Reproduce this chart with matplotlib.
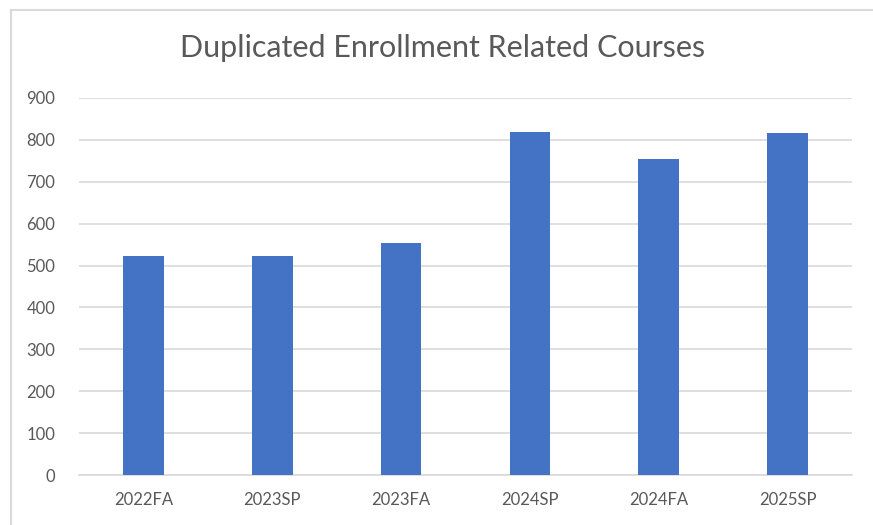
import matplotlib
matplotlib.use("Agg")
import matplotlib.pyplot as plt

categories = ["2022FA", "2023SP", "2023FA", "2024SP", "2024FA", "2025SP"]
values = [523, 523, 554, 819, 754, 816]
yticks = [0, 100, 200, 300, 400, 500, 600, 700, 800, 900]

plt.rcParams['font.family'] = ['Lato', 'DejaVu Sans']

W, H = 873, 525
fig = plt.figure(figsize=(W / 100, H / 100), dpi=100)
fig.patch.set_facecolor("white")

# chart border (top and left visible)
fig.add_artist(plt.Line2D([11 / W, 1.0], [1 - 10 / H, 1 - 10 / H], color="#D9D9D9", lw=1.5, transform=fig.transFigure))
fig.add_artist(plt.Line2D([11 / W, 11 / W], [0, 1 - 10 / H], color="#D9D9D9", lw=1.5, transform=fig.transFigure))

x0, x1 = 79, 852
y_top, y_bot = 98, 475
ax = fig.add_axes([x0 / W, 1 - y_bot / H, (x1 - x0) / W, (y_bot - y_top) / H])
ax.set_facecolor("white")

pos = list(range(len(categories)))
ax.bar(pos, values, width=0.315, color="#4472C4", zorder=3)
ax.set_xlim(-0.5, len(categories) - 0.5)
ax.set_ylim(0, 900)
ax.set_yticks(yticks)
ax.set_yticklabels([str(t) for t in yticks])
ax.set_xticks(pos)
ax.set_xticklabels(categories)

ax.yaxis.grid(True, color="#D9D9D9", lw=1.2, zorder=0)
for s in ["left", "right", "top"]:
    ax.spines[s].set_visible(False)
ax.spines["bottom"].set_color("#D9D9D9")
ax.spines["bottom"].set_linewidth(1.2)
ax.tick_params(axis="both", length=0, colors="#595959", labelsize=12)
ax.tick_params(axis="y", pad=17)
ax.tick_params(axis="x", pad=12)

fig.text(443 / W, 1 - 48 / H, "Duplicated Enrollment Related Courses", ha="center", va="center",
         fontsize=22, color="#595959")

fig.savefig("out.png", dpi=100)
